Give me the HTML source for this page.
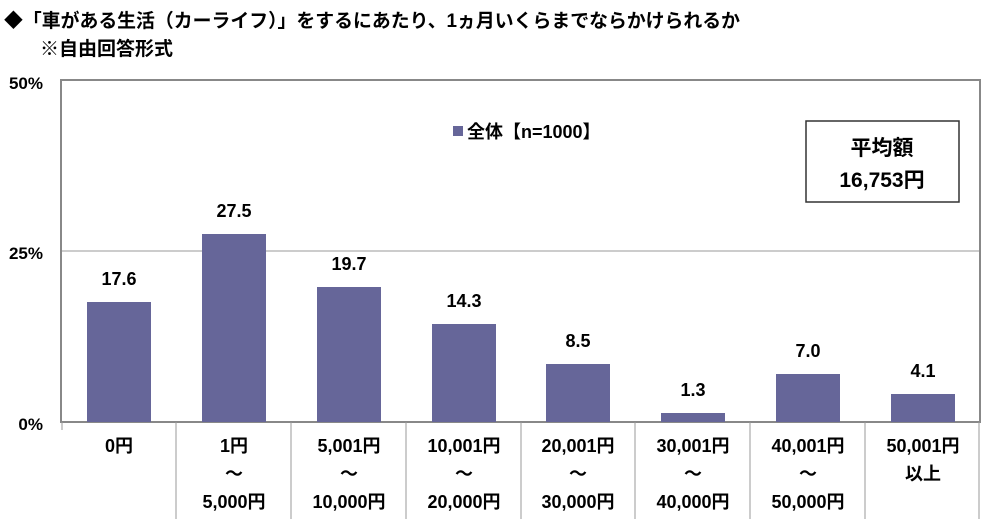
<!DOCTYPE html><html><head><meta charset="utf-8"><style>
body{margin:0;background:#fff;width:1000px;height:519px;overflow:hidden;font-family:"Liberation Sans","Noto Sans CJK JP",sans-serif;font-weight:bold;color:#000}
</style></head><body>
<svg width="1000" height="519" xmlns="http://www.w3.org/2000/svg" font-family="Liberation Sans, Noto Sans CJK JP, sans-serif" font-weight="bold">
<text x="4" y="27" font-size="19" textLength="736" lengthAdjust="spacingAndGlyphs">◆「車がある生活（カーライフ）」をするにあたり、1ヵ月いくらまでならかけられるか</text>
<text x="40" y="55" font-size="19">※自由回答形式</text>
<rect x="61" y="80" width="919" height="342" fill="#fff" stroke="#888" stroke-width="2"/>
<line x1="62" y1="251" x2="979" y2="251" stroke="#999" stroke-width="1"/>
<g font-size="17" text-anchor="end"><text x="43" y="89">50%</text><text x="43" y="259">25%</text><text x="43" y="430">0%</text></g>
<g fill="#666699">
<rect x="87" y="302" width="64" height="120"/>
<rect x="202" y="234" width="64" height="188"/>
<rect x="317" y="287" width="64" height="135"/>
<rect x="432" y="324" width="64" height="98"/>
<rect x="546" y="364" width="64" height="58"/>
<rect x="661" y="413" width="64" height="9"/>
<rect x="776" y="374" width="64" height="48"/>
<rect x="891" y="394" width="64" height="28"/>
</g>
<g font-size="18" text-anchor="middle">
<text x="119" y="285">17.6</text><text x="234" y="217">27.5</text><text x="349" y="270">19.7</text><text x="464" y="307">14.3</text><text x="578" y="347">8.5</text><text x="693" y="396">1.3</text><text x="808" y="357">7.0</text><text x="923" y="377">4.1</text>
</g>
<g stroke="#999" stroke-width="1">
<line x1="62" y1="422" x2="62" y2="430"/>
<line x1="176" y1="422" x2="176" y2="519"/><line x1="291" y1="422" x2="291" y2="519"/><line x1="406" y1="422" x2="406" y2="519"/><line x1="521" y1="422" x2="521" y2="519"/><line x1="635" y1="422" x2="635" y2="519"/><line x1="750" y1="422" x2="750" y2="519"/><line x1="865" y1="422" x2="865" y2="519"/><line x1="979" y1="422" x2="979" y2="519"/>
</g>
<g font-size="18" text-anchor="middle">
<text x="119" y="452">0円</text>
<text x="234" y="452">1円</text><text x="234" y="480">～</text><text x="234" y="508">5,000円</text>
<text x="349" y="452">5,001円</text><text x="349" y="480">～</text><text x="349" y="508">10,000円</text>
<text x="464" y="452">10,001円</text><text x="464" y="480">～</text><text x="464" y="508">20,000円</text>
<text x="578" y="452">20,001円</text><text x="578" y="480">～</text><text x="578" y="508">30,000円</text>
<text x="693" y="452">30,001円</text><text x="693" y="480">～</text><text x="693" y="508">40,000円</text>
<text x="808" y="452">40,001円</text><text x="808" y="480">～</text><text x="808" y="508">50,000円</text>
<text x="923" y="452">50,001円</text><text x="923" y="480">以上</text>
</g>
<rect x="453" y="126" width="10" height="10" fill="#666699"/>
<text x="467" y="138" font-size="18">全体【n=1000】</text>
<rect x="806" y="121" width="153" height="81" fill="#fff" stroke="#333" stroke-width="1.5"/>
<g font-size="21" text-anchor="middle"><text x="882" y="155">平均額</text><text x="882" y="187">16,753円</text></g>
</svg>
</body></html>
